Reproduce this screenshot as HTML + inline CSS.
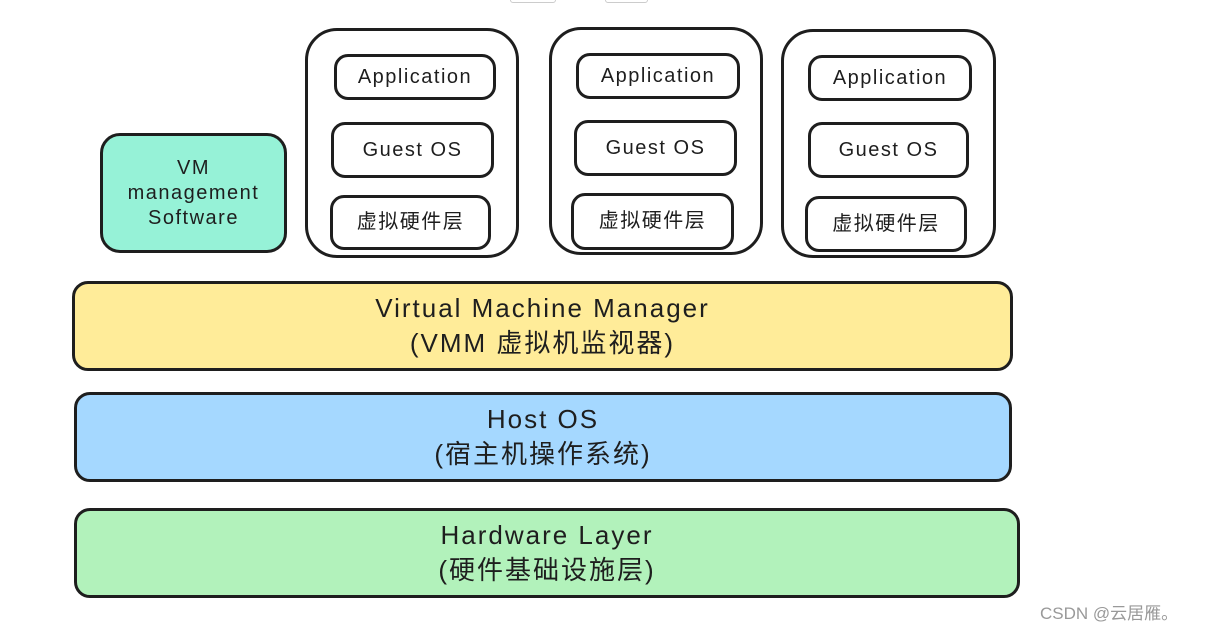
<!DOCTYPE html>
<html><head><meta charset="utf-8"><style>
body{margin:0;width:1227px;height:630px;background:#fff;position:relative;overflow:hidden;font-family:"Liberation Sans","Noto Sans CJK SC",sans-serif;color:#1e1e1e}
.b{position:absolute;box-sizing:border-box;border:3px solid #1e1e1e;border-radius:14px;display:flex;align-items:center;justify-content:center;text-align:center;font-size:20px;line-height:1.25;letter-spacing:1.5px}
.c{border-radius:32px}
.w{font-size:26px;line-height:1.35;border-radius:16px;letter-spacing:2px}
</style></head><body>
<div class="b" style="left:510px;top:-10px;width:46px;height:13px;border-width:1px;border-color:#ccc;border-radius:3px"></div>
<div class="b" style="left:605px;top:-10px;width:43px;height:13px;border-width:1px;border-color:#ccc;border-radius:3px"></div>

<div class="b" style="left:100px;top:133px;width:187px;height:120px;background:#96f2d7;border-radius:20px">VM<br>management<br>Software</div>

<div class="b c" style="left:305px;top:28px;width:214px;height:230px"></div>
<div class="b" style="left:334px;top:54px;width:162px;height:46px">Application</div>
<div class="b" style="left:331px;top:122px;width:163px;height:56px">Guest OS</div>
<div class="b" style="left:330px;top:195px;width:161px;height:55px">虚拟硬件层</div>

<div class="b c" style="left:549px;top:27px;width:214px;height:228px"></div>
<div class="b" style="left:576px;top:53px;width:164px;height:46px">Application</div>
<div class="b" style="left:574px;top:120px;width:163px;height:56px">Guest OS</div>
<div class="b" style="left:571px;top:193px;width:163px;height:57px">虚拟硬件层</div>

<div class="b c" style="left:781px;top:29px;width:215px;height:229px"></div>
<div class="b" style="left:808px;top:55px;width:164px;height:46px">Application</div>
<div class="b" style="left:808px;top:122px;width:161px;height:56px">Guest OS</div>
<div class="b" style="left:805px;top:196px;width:162px;height:56px">虚拟硬件层</div>

<div class="b w" style="left:72px;top:281px;width:941px;height:90px;background:#ffec99">Virtual Machine Manager<br>(VMM 虚拟机监视器)</div>
<div class="b w" style="left:74px;top:392px;width:938px;height:90px;background:#a5d8ff">Host OS<br>(宿主机操作系统)</div>
<div class="b w" style="left:74px;top:508px;width:946px;height:90px;background:#b2f2bb">Hardware Layer<br>(硬件基础设施层)</div>

<div style="position:absolute;left:1040px;top:599px;font-size:17px;color:#999">CSDN @云居雁。</div>
</body></html>
